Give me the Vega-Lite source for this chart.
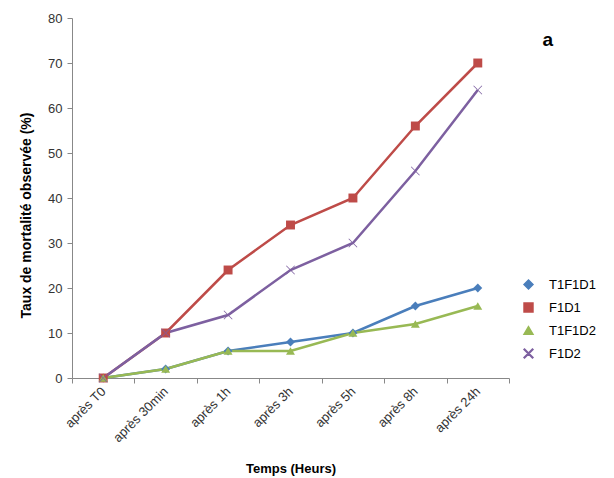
{
  "$schema": "https://vega.github.io/schema/vega-lite/v6.json",
  "autosize": "none",
  "width": 437,
  "height": 360,
  "padding": {"left": 72, "top": 18, "right": 105, "bottom": 100},
  "background": "white",
  "config": {"view": {"stroke": null}, "font": "Liberation Sans"},
  "title": {"text": "a", "anchor": "end", "frame": "group", "dx": 44, "dy": 42, "fontSize": 19, "fontWeight": "bold", "color": "black", "font": "Liberation Sans"},
  "data": {"values": [
    {"t": "après T0", "s": "T1F1D1", "v": 0},
    {"t": "après 30min", "s": "T1F1D1", "v": 2},
    {"t": "après 1h", "s": "T1F1D1", "v": 6},
    {"t": "après 3h", "s": "T1F1D1", "v": 8},
    {"t": "après 5h", "s": "T1F1D1", "v": 10},
    {"t": "après  8h", "s": "T1F1D1", "v": 16},
    {"t": "après 24h", "s": "T1F1D1", "v": 20},
    {"t": "après T0", "s": "F1D1", "v": 0},
    {"t": "après 30min", "s": "F1D1", "v": 10},
    {"t": "après 1h", "s": "F1D1", "v": 24},
    {"t": "après 3h", "s": "F1D1", "v": 34},
    {"t": "après 5h", "s": "F1D1", "v": 40},
    {"t": "après  8h", "s": "F1D1", "v": 56},
    {"t": "après 24h", "s": "F1D1", "v": 70},
    {"t": "après T0", "s": "T1F1D2", "v": 0},
    {"t": "après 30min", "s": "T1F1D2", "v": 2},
    {"t": "après 1h", "s": "T1F1D2", "v": 6},
    {"t": "après 3h", "s": "T1F1D2", "v": 6},
    {"t": "après 5h", "s": "T1F1D2", "v": 10},
    {"t": "après  8h", "s": "T1F1D2", "v": 12},
    {"t": "après 24h", "s": "T1F1D2", "v": 16},
    {"t": "après T0", "s": "F1D2", "v": 0},
    {"t": "après 30min", "s": "F1D2", "v": 10},
    {"t": "après 1h", "s": "F1D2", "v": 14},
    {"t": "après 3h", "s": "F1D2", "v": 24},
    {"t": "après 5h", "s": "F1D2", "v": 30},
    {"t": "après  8h", "s": "F1D2", "v": 46},
    {"t": "après 24h", "s": "F1D2", "v": 64}
  ]},
  "encoding": {
    "x": {"field": "t", "type": "nominal", "sort": null,
      "scale": {"type": "band", "paddingInner": 0, "paddingOuter": 0},
      "axis": {"title": "Temps (Heurs)", "titleFontSize": 13, "titleFontWeight": "bold", "titleColor": "black", "titlePadding": 18,
        "labelAngle": -45, "labelFontSize": 13, "labelColor": "#333333", "labelAlign": "right", "labelBaseline": "middle", "labelPadding": 6,
        "tickBand": "extent", "tickSize": 5, "tickColor": "#888888", "domainColor": "#888888", "grid": false}},
    "y": {"field": "v", "type": "quantitative",
      "scale": {"domain": [0, 80]},
      "axis": {"title": "Taux de mortalité observée  (%)", "titleFontSize": 14, "titleFontWeight": "bold", "titleColor": "black", "titlePadding": 14, "titleY": 197,
        "values": [0, 10, 20, 30, 40, 50, 60, 70, 80], "labelFontSize": 13, "labelColor": "#333333", "labelPadding": 5,
        "tickSize": 5, "tickColor": "#888888", "domainColor": "#888888", "grid": false}},
    "color": {"field": "s", "type": "nominal", "sort": ["T1F1D1", "F1D1", "T1F1D2", "F1D2"],
      "scale": {"domain": ["T1F1D1", "F1D1", "T1F1D2", "F1D2"], "range": ["#4a7ebb", "#be4b48", "#98b954", "#7d60a0"]},
      "legend": {"title": null, "orient": "none", "legendX": 450, "legendY": 260, "labelFontSize": 13, "labelColor": "black", "symbolSize": 80, "rowPadding": 8, "labelOffset": 14}}
  },
  "layer": [
    {"mark": {"type": "line", "strokeWidth": 2.5}, "encoding": {}},
    {"mark": {"type": "point", "filled": true, "opacity": 1, "size": 80},
      "encoding": {
        "shape": {"field": "s", "type": "nominal", "sort": ["T1F1D1", "F1D1", "T1F1D2", "F1D2"],
          "scale": {"domain": ["T1F1D1", "F1D1", "T1F1D2", "F1D2"], "range": ["diamond", "square", "triangle-up", "M-1,-0.88L-0.88,-1L1,0.88L0.88,1Z M-1,0.88L-0.88,1L1,-0.88L0.88,-1Z"]},
          "legend": null}
      }}
  ]
}
